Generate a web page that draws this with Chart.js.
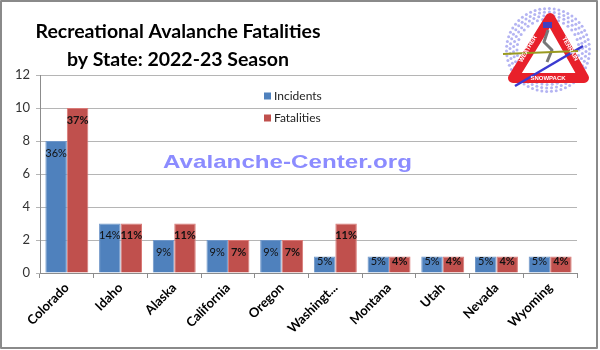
<!DOCTYPE html>
<html>
<head>
<meta charset="utf-8">
<script src="https://cdn.jsdelivr.net/npm/chart.js@4"></script>
<style>
  body { margin: 0; background: #fff; }
  canvas { display: block; }
</style>
</head>
<body>
<canvas id="chart" width="600" height="350"></canvas>
<script>
// chart data
const states = ['Colorado', 'Idaho', 'Alaska', 'California', 'Oregon', 'Washingt...', 'Montana', 'Utah', 'Nevada', 'Wyoming'];
const incidents = [8, 3, 2, 2, 2, 1, 1, 1, 1, 1];
const fatalities = [10, 3, 3, 2, 2, 3, 1, 1, 1, 1];
const incidentPct = ['36%', '14%', '9%', '9%', '9%', '5%', '5%', '5%', '5%', '5%'];
const fatalityPct = ['37%', '11%', '11%', '7%', '7%', '11%', '4%', '4%', '4%', '4%'];
const yTicks = [0, 2, 4, 6, 8, 10, 12];

const BLUE = '#4f81bd';
const RED = '#c0504d';

// title, legend, watermark, logo and frame are drawn on top of the chart
const decorPlugin = {
  id: 'decor',
  beforeDraw(chart) {
    const ctx = chart.ctx;
    ctx.save();
    ctx.fillStyle = '#fff';
    ctx.fillRect(0, 0, chart.width, chart.height);
    ctx.restore();
  },
  afterDatasetsDraw(chart) {
    const ctx = chart.ctx;
    // percentage labels inside the bars
    const pcts = [incidentPct, fatalityPct];
    chart.data.datasets.forEach((ds, di) => {
      const meta = chart.getDatasetMeta(di);
      meta.data.forEach((bar, i) => {
        const h = bar.base - bar.y;
        const off = Math.min(12, h / 2 - 3);
        ctx.save();
        ctx.font = (di === 1 ? 'bold ' : '') + '11px Lato';
        ctx.fillStyle = '#111';
        ctx.textAlign = 'center';
        ctx.textBaseline = 'middle';
        ctx.fillText(pcts[di][i], bar.x, bar.y + off);
        ctx.restore();
      });
    });
  },
  afterDraw(chart) {
    const ctx = chart.ctx;
    ctx.save();

    // title
    ctx.fillStyle = '#000';
    ctx.font = 'bold 19.5px Lato';
    ctx.textAlign = 'center';
    ctx.textBaseline = 'alphabetic';
    ctx.fillText('Recreational Avalanche Fatalities', 178, 38);
    ctx.fillText('by State: 2022-23 Season', 178, 66);

    // legend
    ctx.font = '12px Lato';
    ctx.textAlign = 'left';
    ctx.textBaseline = 'middle';
    chart.data.datasets.forEach((ds, i) => {
      const y = 96 + i * 22;
      ctx.fillStyle = ds.backgroundColor;
      ctx.fillRect(264, y - 3.5, 7, 7);
      ctx.fillStyle = '#222';
      ctx.fillText(ds.label, 274, y);
    });

    // watermark
    ctx.font = 'bold 19px "Liberation Sans"';
    const wm = 'Avalanche-Center.org';
    const w = ctx.measureText(wm).width;
    ctx.save();
    ctx.translate(163, 168);
    ctx.scale(249 / w, 1);
    ctx.fillStyle = '#8c8cff';
    ctx.textBaseline = 'alphabetic';
    ctx.fillText(wm, 0, 0);
    ctx.restore();

    // logo
    const cx = 548, cy = 50;
    ctx.fillStyle = '#fff';
    ctx.beginPath();
    ctx.arc(cx, cy, 43, 0, Math.PI * 2);
    ctx.fill();
    ctx.fillStyle = '#b4b4f2';
    for (let ring = 0; ring < 4; ring++) {
      const r = 31 + ring * 3.5;
      const n = 36 + ring * 6;
      for (let k = 0; k < n; k++) {
        const a = (k / n) * Math.PI * 2 + ring;
        ctx.beginPath();
        ctx.arc(cx + r * Math.cos(a), cy + r * Math.sin(a), 1.5, 0, Math.PI * 2);
        ctx.fill();
      }
    }
    ctx.lineJoin = 'round';
    ctx.strokeStyle = '#e8202a';
    ctx.lineWidth = 10;
    ctx.beginPath();
    ctx.moveTo(550, 18);
    ctx.lineTo(584, 78);
    ctx.lineTo(513, 78);
    ctx.closePath();
    ctx.fillStyle = '#fff';
    ctx.fill();
    ctx.stroke();
    // skier, skis and pole
    ctx.strokeStyle = '#777';
    ctx.lineWidth = 3;
    ctx.beginPath();
    ctx.moveTo(548, 30);
    ctx.lineTo(544, 42);
    ctx.lineTo(552, 50);
    ctx.lineTo(547, 62);
    ctx.stroke();
    ctx.fillStyle = '#4040c0';
    ctx.fillRect(543, 22, 9, 6);
    ctx.lineWidth = 2.5;
    ctx.strokeStyle = '#3a3ad0';
    ctx.beginPath();
    ctx.moveTo(515, 86);
    ctx.lineTo(583, 46);
    ctx.stroke();
    ctx.lineWidth = 2;
    ctx.strokeStyle = '#9a9a20';
    ctx.beginPath();
    ctx.moveTo(503, 54);
    ctx.lineTo(578, 51);
    ctx.stroke();
    ctx.fillStyle = '#fff';
    ctx.font = 'bold 6px "Liberation Sans"';
    ctx.textAlign = 'center';
    ctx.textBaseline = 'middle';
    ctx.fillText('SNOWPACK', 548, 78);
    ctx.save();
    ctx.translate(528, 49);
    ctx.rotate(-Math.PI / 3);
    ctx.fillText('WEATHER', 0, 0);
    ctx.restore();
    ctx.save();
    ctx.translate(570, 49);
    ctx.rotate(Math.PI / 3);
    ctx.fillText('TERRAIN', 0, 0);
    ctx.restore();

    // frame
    ctx.strokeStyle = '#8a8a8a';
    ctx.lineWidth = 2;
    ctx.strokeRect(1, 1, 596, 347);
    ctx.restore();
  }
};

new Chart(document.getElementById('chart'), {
  type: 'bar',
  data: {
    labels: states,
    datasets: [
      {
        label: 'Incidents',
        data: incidents,
        backgroundColor: BLUE,
        borderColor: '#6f96c8',
        borderWidth: 1,
      },
      {
        label: 'Fatalities',
        data: fatalities,
        backgroundColor: RED,
        borderColor: '#d97a77',
        borderWidth: 1,
      },
    ],
  },
  options: {
    responsive: false,
    animation: false,
    devicePixelRatio: 1,
    layout: { padding: { top: 75, right: 23, left: 0, bottom: 0 } },
    plugins: {
      legend: { display: false },
      tooltip: { enabled: false },
    },
    datasets: {
      bar: { categoryPercentage: 0.8, barPercentage: 1 },
    },
    scales: {
      x: {
        afterFit: (scale) => { scale.height = 77; },
        grid: {
          display: true,
          drawOnChartArea: false,
          tickLength: 5,
          color: '#8c8c8c',
        },
        border: { color: '#8c8c8c' },
        ticks: {
          minRotation: 45,
          maxRotation: 45,
          autoSkip: false,
          padding: 2,
          color: '#000',
          font: { family: 'Lato', weight: 'bold', size: 13 },
        },
      },
      y: {
        min: 0,
        max: 12,
        afterFit: (scale) => { scale.width = 40; },
        afterBuildTicks: (scale) => { scale.ticks = yTicks.map((v) => ({ value: v })); },
        grid: {
          color: '#b5b5b5',
          tickLength: 4,
        },
        border: { color: '#8c8c8c' },
        ticks: {
          padding: 6,
          color: '#333',
          font: { family: 'Lato', size: 13 },
        },
      },
    },
  },
  plugins: [decorPlugin],
});
</script>
</body>
</html>
